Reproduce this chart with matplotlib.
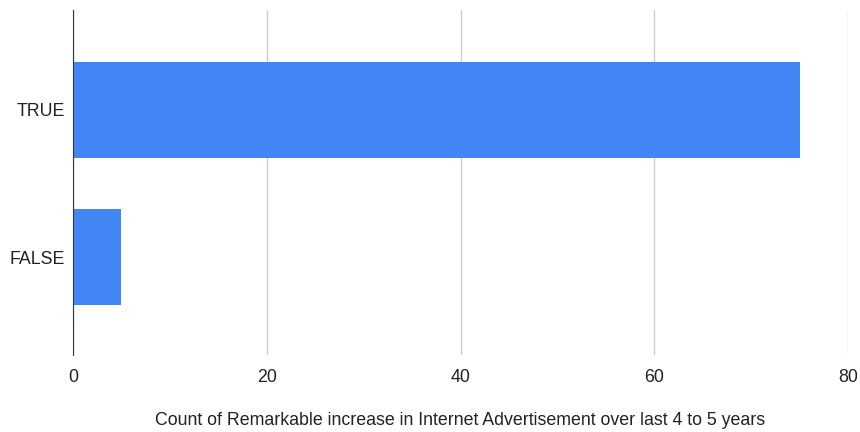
import matplotlib.pyplot as plt

categories = ["FALSE", "TRUE"]
counts = [5, 75]
x_ticks = [0, 20, 40, 60, 80]

plt.rcParams['font.family'] = ['Liberation Sans', 'DejaVu Sans']

fig = plt.figure(figsize=(8.6, 4.32), dpi=100)
ax = fig.add_axes([0.0849, 0.178, 0.9012, 0.799])

ax.barh(range(len(categories)), counts, height=0.653, color='#4285F4', zorder=3)

ax.set_xlim(0, 80)
ax.set_ylim(-0.667, 1.68)
ax.set_xticks(x_ticks)
ax.set_yticks(range(len(categories)))
ax.set_yticklabels(categories)
ax.tick_params(axis='both', length=0, labelsize=12.8, colors='#222222')
ax.tick_params(axis='x', pad=10)
ax.tick_params(axis='y', pad=6)

ax.grid(axis='x', color='#cccccc', linewidth=1, zorder=0)
for side in ['top', 'right', 'bottom']:
    ax.spines[side].set_visible(False)
ax.spines['left'].set_color('#333333')
ax.spines['left'].set_zorder(4)

ax.set_xlabel("Count of Remarkable increase in Internet Advertisement over last 4 to 5 years",
              fontsize=12.8, color='#222222', labelpad=19)

fig.savefig("out.png", dpi=100)
